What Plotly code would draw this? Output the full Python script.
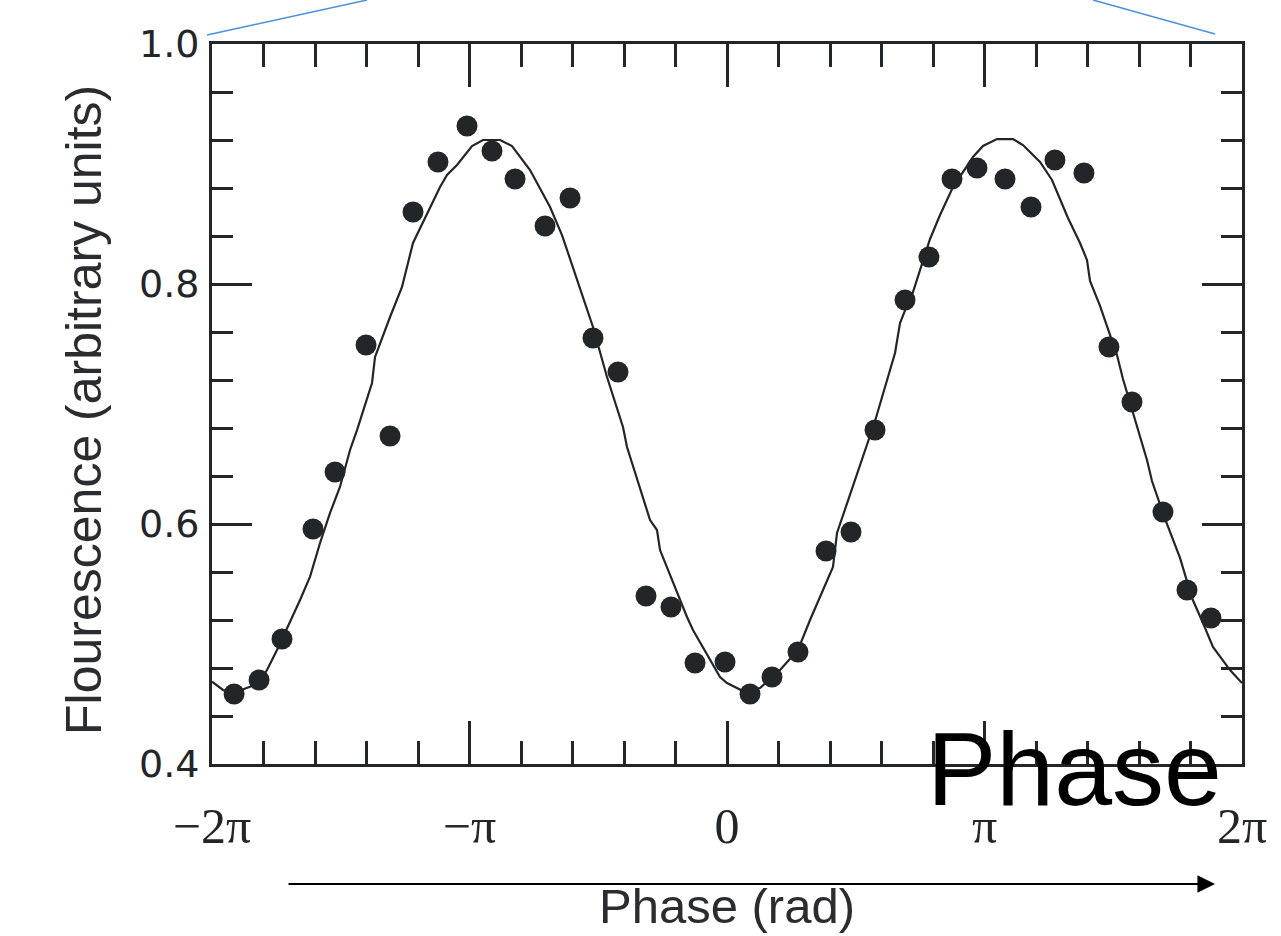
import math
import plotly.graph_objects as go

PI = math.pi

# Measured data points (phase in rad, fluorescence)
dot_phase = [-6.014, -5.709, -5.429, -5.051, -4.782, -4.404, -4.111, -3.831, -3.526, -3.172,
             -2.867, -2.586, -2.220, -1.915, -1.635, -1.330, -0.988, -0.683, -0.390, -0.024,
             0.281, 0.549, 0.866, 1.208, 1.513, 1.806, 2.172, 2.464, 2.745, 3.050,
             3.392, 3.709, 4.001, 4.355, 4.660, 4.941, 5.319, 5.612, 5.905]
dot_fluor = [0.4583, 0.4700, 0.5042, 0.5958, 0.6433, 0.7492, 0.6733, 0.8600, 0.9017, 0.9317,
             0.9108, 0.8875, 0.8483, 0.8717, 0.7550, 0.7267, 0.5400, 0.5308, 0.4842, 0.4850,
             0.4583, 0.4725, 0.4933, 0.5775, 0.5933, 0.6783, 0.7867, 0.8225, 0.8875, 0.8967,
             0.8875, 0.8642, 0.9033, 0.8925, 0.7475, 0.7017, 0.6100, 0.5450, 0.5217]

# Hand-drawn fit curve
curve_phase = [-6.283, -6.149, -6.027, -5.819, -5.697, -5.612, -5.490, -5.356, -5.209, -5.087,
               -4.965, -4.843, -4.721, -4.599, -4.514, -4.331, -4.294, -4.111, -3.965, -3.831,
               -3.623, -3.501, -3.416, -3.294, -3.111, -2.977, -2.769, -2.623, -2.403, -2.318,
               -2.159, -2.013, -1.952, -1.793, -1.635, -1.464, -1.269, -1.220, -0.939, -0.854,
               -0.817, -0.488, -0.415, -0.085, 0.000, 0.195, 0.403, 0.647, 0.866, 1.013,
               1.293, 1.342, 1.501, 1.708, 1.806, 2.050, 2.111, 2.208, 2.269, 2.477,
               2.599, 2.757, 3.001, 3.123, 3.294, 3.489, 3.611, 3.819, 3.965, 4.160,
               4.307, 4.392, 4.429, 4.551, 4.758, 4.831, 5.124, 5.185, 5.344, 5.527,
               5.673, 5.807, 5.929, 6.137, 6.283]
curve_fluor = [0.4686, 0.4617, 0.4592, 0.4644, 0.4700, 0.4783, 0.4950, 0.5144, 0.5367, 0.5561,
               0.5842, 0.6092, 0.6311, 0.6617, 0.6783, 0.7175, 0.7392, 0.7725, 0.7975, 0.8342,
               0.8642, 0.8808, 0.8908, 0.8992, 0.9150, 0.9200, 0.9200, 0.9150, 0.8950, 0.8842,
               0.8642, 0.8408, 0.8283, 0.7950, 0.7642, 0.7225, 0.6808, 0.6642, 0.6033, 0.5950,
               0.5783, 0.5225, 0.5117, 0.4725, 0.4675, 0.4608, 0.4633, 0.4783, 0.4950, 0.5200,
               0.5642, 0.5925, 0.6250, 0.6675, 0.6858, 0.7425, 0.7675, 0.7842, 0.7933, 0.8375,
               0.8575, 0.8808, 0.9058, 0.9150, 0.9208, 0.9208, 0.9158, 0.9017, 0.8867, 0.8550,
               0.8342, 0.8200, 0.8025, 0.7817, 0.7408, 0.7208, 0.6533, 0.6358, 0.6042, 0.5717,
               0.5383, 0.5175, 0.4975, 0.4783, 0.4675]

x_tick_vals = [-2 * PI, -PI, 0, PI, 2 * PI]
x_tick_text = ["\u22122\u03c0", "\u2212\u03c0", "0", "\u03c0", "2\u03c0"]
y_tick_vals = [0.4, 0.6, 0.8, 1.0]
y_tick_text = ["0.4", "0.6", "0.8", "1.0"]

INK = "#222629"

fig = go.Figure()
fig.add_trace(go.Scatter(x=curve_phase, y=curve_fluor, mode="lines",
                         line=dict(color=INK, width=2.2), hoverinfo="skip"))
fig.add_trace(go.Scatter(x=dot_phase, y=dot_fluor, mode="markers",
                         marker=dict(color=INK, size=21, line=dict(width=0))))

fig.update_layout(
    width=1281, height=936, autosize=False,
    margin=dict(l=212, r=39, t=44, b=172, pad=0),
    paper_bgcolor="white", plot_bgcolor="white",
    showlegend=False,
    xaxis=dict(range=[-2 * PI, 2 * PI], showgrid=False, zeroline=False,
               showline=True, linecolor=INK, linewidth=3, mirror="allticks",
               ticks="inside", ticklen=43, tickwidth=2.5, tickcolor=INK,
               tickmode="array", tickvals=x_tick_vals, ticktext=x_tick_text,
               tickfont=dict(family="Liberation Serif", size=50, color=INK),
               ticklabelstandoff=16,
               minor=dict(ticks="inside", ticklen=23, tickwidth=2.5, tickcolor=INK,
                          tick0=-2 * PI, dtick=PI / 5, showgrid=False)),
    yaxis=dict(range=[0.4, 1.0], showgrid=False, zeroline=False,
               showline=True, linecolor=INK, linewidth=3, mirror="allticks",
               ticks="inside", ticklen=40, tickwidth=2.5, tickcolor=INK,
               tickmode="array", tickvals=y_tick_vals, ticktext=y_tick_text,
               tickfont=dict(family="DejaVu Sans", size=38, color=INK),
               ticklabelstandoff=2,
               minor=dict(ticks="inside", ticklen=21, tickwidth=2.5, tickcolor=INK,
                          tick0=0.4, dtick=0.04, showgrid=False)),
)

annotations = [
    dict(text="Flourescence (arbitrary units)", textangle=-90,
         xref="paper", yref="paper", x=-0.1243, y=0.4917,
         xanchor="center", yanchor="middle", showarrow=False,
         font=dict(family="Liberation Sans", size=50, color="#2a2d30")),
    dict(text="Phase (rad)", xref="paper", yref="paper", x=0.5, y=-0.197,
         xanchor="center", yanchor="middle", showarrow=False,
         font=dict(family="Liberation Sans", size=49, color="#2a2d30")),
    dict(text="", xref="paper", yref="paper", x=0.9738, y=-0.1667,
         ax=-928, ay=0, axref="pixel", ayref="pixel",
         showarrow=True, arrowhead=2, arrowsize=1.6, arrowwidth=2.2, arrowcolor="black"),
    dict(text="Phase", xref="paper", yref="paper", x=0.8374, y=-0.0069,
         xanchor="center", yanchor="middle", showarrow=False,
         font=dict(family="Liberation Sans", size=104, color="black")),
]
fig.update_layout(annotations=annotations)

fig.add_shape(type="line", xref="paper", yref="paper",
              x0=-0.00485, y0=1.0125, x1=0.1505, y1=1.0611,
              line=dict(color="#4a90e2", width=1.5))
fig.add_shape(type="line", xref="paper", yref="paper",
              x0=0.8553, y0=1.0611, x1=0.9738, y1=1.0139,
              line=dict(color="#4a90e2", width=1.5))

fig.write_html("out.html")
